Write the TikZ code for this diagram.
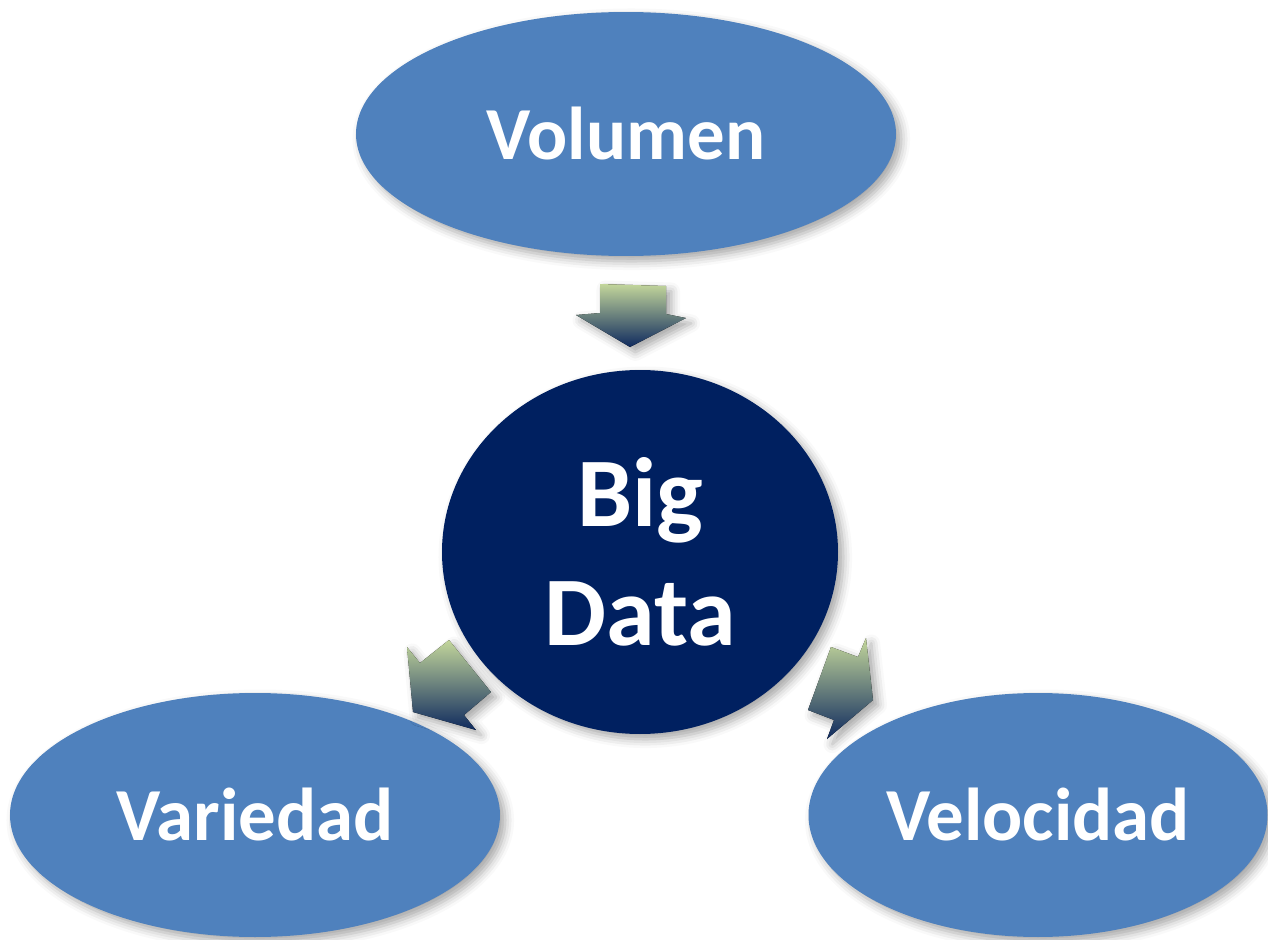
\documentclass[tikz,border=0pt]{standalone}
\usepackage{fontspec}
\setmainfont{Carlito}
\usetikzlibrary{shapes.geometric,shadows.blur}
\definecolor{petal}{HTML}{4F81BD}
\definecolor{navy}{HTML}{002060}
\definecolor{sage}{HTML}{C3D69B}
\definecolor{deep}{HTML}{0F2A5E}

\begin{document}
\begin{tikzpicture}[
    x=0.1mm, y=-0.1mm,
    soft/.style={blur shadow={shadow xshift=1.5pt, shadow yshift=-1.5pt, shadow blur radius=2.5pt, shadow opacity=35}},
    petalbox/.style={ellipse, fill=petal, text=white, inner sep=0pt, soft,
        font=\bfseries\fontsize{21.3}{26}\selectfont},
    corebox/.style={ellipse, fill=navy, text=white, inner sep=0pt, soft, align=center,
        minimum width=3.96cm, minimum height=3.64cm,
        font=\bfseries\fontsize{28}{34}\selectfont},
    flow/.style={top color=sage, bottom color=deep, soft}
]
    \useasboundingbox (0,0) rectangle (1268,940);

    % Outer ideas
    \node[petalbox, minimum width=5.40cm, minimum height=2.44cm] (volumen) at (626,134) {Volumen};
    \node[petalbox, minimum width=4.90cm, minimum height=2.44cm] (variedad) at (255,815) {Variedad};
    \node[petalbox, minimum width=4.59cm, minimum height=2.44cm] (velocidad) at (1038,815) {Velocidad};

    % Centre
    \node[corebox] (bigdata) at (640,552) {Big\\Data};

    % Arrows into and out of the centre
    \fill[flow] (600,284) -- (666,286) -- (666,314) -- (686,318) -- (630,347) -- (576,315) -- (600,313) -- cycle;
    \fill[flow] (407,647) -- (420,663) -- (449,640) -- (491,692) -- (464,715) -- (476,730) -- (413,712) -- cycle;
    \fill[flow] (831,647) -- (858,657) -- (866,638) -- (873,700) -- (827,739) -- (834,720) -- (808,710) -- cycle;

\end{tikzpicture}
\end{document}
